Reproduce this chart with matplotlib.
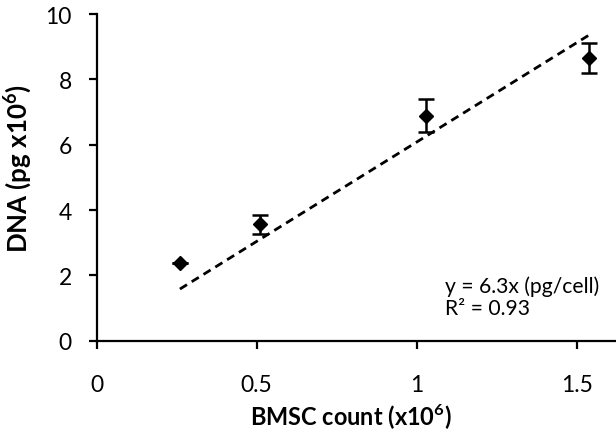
import numpy as np
import matplotlib
matplotlib.use("Agg")
import matplotlib.pyplot as plt

plt.rcParams["font.family"] = ["Lato", "DejaVu Sans"]
plt.rcParams["mathtext.fontset"] = "custom"
plt.rcParams["mathtext.rm"] = "Lato"
plt.rcParams["mathtext.bf"] = "Lato:bold"

# BMSC count (x10^6) vs DNA (pg x10^6)
cells = np.array([0.26, 0.51, 1.03, 1.54])
dna = np.array([2.38, 3.57, 6.89, 8.64])
dna_err = np.array([0.0, 0.29, 0.50, 0.46])

# fitted trend line (as drawn)
slope = 6.08
fit_x = np.array([cells.min(), cells.max()])

fig = plt.figure(figsize=(6.16, 4.35), dpi=100)
ax = fig.add_axes([0.157, 0.2145, 0.843, 0.751])

ax.plot(fit_x, slope * fit_x, ls=(0, (3, 2)), color="black", lw=2)
ax.errorbar(cells, dna, yerr=dna_err, fmt="D", color="black", ms=7,
            ecolor="black", elinewidth=1.8, capsize=6, capthick=1.8, zorder=5)

ax.set_xlim(0, 1.623)
ax.set_ylim(0, 10)
ax.set_xticks([0, 0.5, 1, 1.5])
ax.set_xticklabels(["0", "0.5", "1", "1.5"])
ax.set_yticks([0, 2, 4, 6, 8, 10])

for s in ("top", "right"):
    ax.spines[s].set_visible(False)
for s in ("left", "bottom"):
    ax.spines[s].set_linewidth(1.6)
ax.tick_params(direction="out", length=6, width=1.6, labelsize=16.5)
ax.tick_params(axis="x", pad=18)
ax.tick_params(axis="y", pad=12)

xl = ax.set_xlabel(r"BMSC count (x10$^{\mathbf{6}}$)", fontsize=16, fontweight="bold")
yl = ax.set_ylabel(r"DNA (pg x10$^{\mathbf{6}}$)", fontsize=16, fontweight="bold")
note = ax.text(1.088, 2.0, "y = 6.3x (pg/cell)\nR² = 0.93", fontsize=15,
               va="top", ha="left", linespacing=1.1)

# size the texts to roughly the lengths seen in the original (pixels)
fig.canvas.draw()
r = fig.canvas.get_renderer()
for t, target, horiz in ((xl, 202, True), (yl, 169, False), (note, 155, True)):
    bb = t.get_window_extent(r)
    cur = bb.width if horiz else bb.height
    t.set_fontsize(t.get_fontsize() * target / cur)

ax.xaxis.set_label_coords(0.49, -0.185)
ax.yaxis.set_label_coords(-0.12, 0.53)

fig.savefig("out.png", dpi=100)
